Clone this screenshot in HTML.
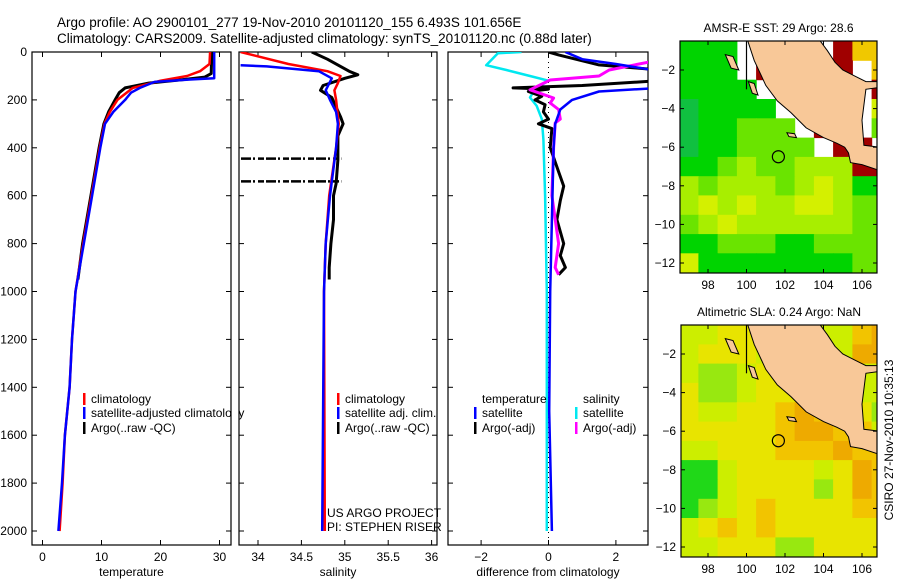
<!DOCTYPE html>
<html><head><meta charset="utf-8">
<style>
html,body{margin:0;padding:0;background:#fff;}
svg{display:block;font-family:"Liberation Sans",sans-serif;}
</style></head>
<body>
<svg id="fig" width="900" height="580" viewBox="0 0 900 580" xmlns="http://www.w3.org/2000/svg">
<rect width="900" height="580" fill="#fff"/>
<text x="57" y="27" font-size="13.5">Argo profile: AO 2900101_277 19-Nov-2010 20101120_155 6.493S 101.656E</text>
<text x="57" y="43" font-size="13.5">Climatology: CARS2009. Satellite-adjusted climatology: synTS_20101120.nc (0.88d later)</text>
<text transform="translate(893,440) rotate(-90)" text-anchor="middle" font-size="12">CSIRO 27-Nov-2010 10:35:13</text>
<g id="plots"></g>
</svg>
<script>
// ---------- DATA ----------
const depthTicks = [0,200,400,600,800,1000,1200,1400,1600,1800,2000];
const tempTicks = [0,10,20,30];
const salTicks = [34,34.5,35,35.5,36];
const diffTicks = [-2,0,2];

const tClimDepth = [0,50,80,100,120,150,200,250,300,400,600,800,1000,1200,1400,1600,1800,2000];
const tClimVal   = [28.4,28.3,26.7,24.5,20,15.3,12.7,11.4,10.5,9.7,8.3,6.9,5.6,5.0,4.6,3.8,3.4,2.9];
const tSatDepth  = [0,110,115,125,150,170,200,250,300,400,600,800,1000,1200,1400,1600,1800,2000];
const tSatVal    = [29.1,29.1,25,19,16.5,15,14,12,10.6,9.8,8.4,7.0,5.6,5.0,4.6,3.8,3.3,2.7];
const tArgoDepth = [0,90,105,115,130,150,170,200,250,300,400,600,800,950];
const tArgoVal   = [28.7,28.6,27.5,24,18,14,13,12.3,11.2,10.4,9.6,8.2,6.8,6.0];

const sClimDepth = [0,50,80,100,130,160,200,300,400,600,800,1000,2000];
const sClimVal   = [33.8,34.35,34.8,34.95,34.92,34.88,34.9,34.93,34.9,34.82,34.78,34.76,34.77];
const sSatDepth  = [55,60,80,110,160,200,250,300,400,600,800,1000,2000];
const sSatVal    = [33.8,34.1,34.7,34.85,34.78,34.83,34.9,34.92,34.9,34.83,34.78,34.76,34.74];
const sArgoDepth = [0,30,60,80,95,110,140,160,190,230,270,300,350,450,550,600,700,800,900,950];
const sArgoVal   = [34.62,34.8,34.95,35.05,35.15,35.0,34.75,34.72,34.85,34.9,34.95,34.98,34.92,34.92,34.9,34.87,34.87,34.84,34.82,34.82];
const sGapDepths = [445,540];

const dTSatDepth  = [0,30,50,80,150,165,200,240,300,400,1000,1500,2000];
const dTSatVal    = [0.5,1.0,2,3.3,3.3,1.5,0.7,0.35,0.2,0.15,0.05,0.02,0.1];
const dTArgoDepth = [0,12,54,75,120,140,150,155,165,185,200,220,250,280,300,320,400,500,560,620,700,800,850,900,930];
const dTArgoVal   = [0,0.3,1.5,3.3,3.3,1.0,-1.05,0,-0.6,-0.2,-0.4,-0.1,-0.15,0,-0.3,0.1,0.05,0.3,0.45,0.35,0.25,0.45,0.35,0.5,0.3];
const dSSatDepth  = [0,5,55,75,100,120,155,190,225,280,365,600,1000,2000];
const dSSatVal    = [-0.8,-1.5,-1.85,-1.25,-0.55,0,-0.4,-0.55,-0.35,-0.2,-0.15,-0.1,-0.05,-0.05];
const dSArgoDepth = [0,33,75,100,117,158,192,213,240,280,296,400,600,800,900,930];
const dSArgoVal   = [3.3,3.3,1.8,1.5,0.05,-0.55,0.15,0.05,0.3,0.35,0.2,0.15,0.1,0.3,0.2,0.3];

const mapLonTicks = [98,100,102,104,106];
const mapLatTicks = [-2,-4,-6,-8,-10,-12];
// 1-degree cells, rows lat -0.5.. -12.5, cols lon 96.5..107.5 ; -1 = missing
const sstGrid = [
[1,1,1,-1,6,-1,-1,-1,6,5,5],
[1,1,1,-1,6,-1,-1,-1,6,-1,5],
[1,1,1,1,-1,-1,-1,-1,-1,-1,6],
[0,1,1,1,1,-1,-1,-1,-1,-1,4],
[0,1,1,2,2,2,-1,6,-1,-1,2],
[0,1,1,2,2,2,2,-1,6,6,-1],
[1,1,2,3,2,2,3,3,3,6,6],
[3,2,3,3,3,2,3,4,3,1,1],
[3,4,3,4,3,3,4,4,3,2,2],
[2,3,4,3,3,3,3,3,3,2,2],
[1,1,2,2,2,1,1,2,2,2,2],
[4,1,1,1,1,1,1,1,1,2,2]];
const slaGrid = [
[3,3,4,4,4,3,3,3,3,5,6],
[3,4,4,4,3,3,3,3,3,6,6],
[3,2,2,3,4,4,4,4,4,3,3],
[4,2,2,3,4,4,4,4,4,3,3],
[4,3,3,4,4,5,6,5,5,4,2],
[4,4,4,4,4,5,6,6,5,5,3],
[3,3,4,4,4,5,5,5,6,5,5],
[1,1,3,4,4,4,4,3,4,6,5],
[1,1,3,4,4,4,4,2,4,6,5],
[1,2,3,4,5,4,4,4,4,5,5],
[3,4,5,4,5,4,4,4,4,4,4],
[3,3,4,4,4,2,2,4,4,4,4]];
const sstColors = ['#10c040','#00d400','#6ae400','#a8ee00','#d4f000','#f0c800','#a00000'];
const slaColors = ['#10b848','#20d818','#98e810','#ccee00','#e8e400','#f2c400','#eeaa00'];
const argoLon = 101.656, argoLat = -6.493;
const landLon = [100.05,100.4,101.0,101.6,102.3,103.1,104.0,104.7,105.1,105.3,105.4,106.0,106.9,106.9,106.1,106.0,106.2,106.9,106.9,106.2,105.6,105.0,104.6,104.2,103.8];
const landLat = [-0.45,-1.5,-2.8,-3.6,-4.2,-5.0,-5.5,-5.8,-6.0,-6.3,-6.8,-6.9,-7.2,-6.0,-5.9,-4.6,-3.0,-2.9,-2.6,-2.6,-2.3,-2.0,-1.6,-1.0,-0.45];
const islandLon = [[98.9,99.3,99.6,99.2],[100.1,100.4,100.6,100.3],[102.1,102.5,102.6,102.2]];
const islandLat = [[-1.2,-1.3,-2.0,-1.9],[-2.6,-2.7,-3.3,-3.2],[-5.25,-5.3,-5.5,-5.45]];

// ---------- DRAW ----------
const NS='http://www.w3.org/2000/svg';
const root=document.getElementById('plots');
function mk(tag,attrs,parent){const e=document.createElementNS(NS,tag);for(const k in attrs)e.setAttribute(k,attrs[k]);(parent||root).appendChild(e);return e;}
function txt(x,y,s,size,anchor,parent){const t=mk('text',{x:x,y:y,'font-size':size,'text-anchor':anchor||'start'},parent);t.textContent=s;return t;}

const PT=52, PB=545, D0=52, DK=479/2000;
const yD=d=>D0+d*DK;

function panel(name,x0,x1,xs,ticks,fmt,label,showY){
  const g=mk('g',{});
  
  
  const r=mk('rect',{x:x0,y:PT,width:x1-x0,height:PB-PT,fill:'none',stroke:'#000','stroke-width':1.2},g);
  
  
  ticks.forEach(v=>{
    const x=xs(v);
    mk('line',{x1:x,x2:x,y1:PB,y2:PB-5,stroke:'#000'},g);
    mk('line',{x1:x,x2:x,y1:PT,y2:PT+5,stroke:'#000'},g);
    const t=txt(x,561,fmt(v),12,'middle',g);
    
    
  });
  depthTicks.forEach(d=>{
    const y=yD(d);
    mk('line',{x1:x0,x2:x0+5,y1:y,y2:y,stroke:'#000'},g);
    mk('line',{x1:x1,x2:x1-5,y1:y,y2:y,stroke:'#000'},g);
    if(showY){const t=txt(x0-5,y+4,String(d),12,'end',g);
      
      }
  });
  const lt=txt((x0+x1)/2,576,label,12,'middle',g);
  
  
  const cid='clip'+name;
  const cp=mk('clipPath',{id:cid},g);mk('rect',{x:x0,y:PT,width:x1-x0,height:PB-PT},cp);
  const inner=mk('g',{'clip-path':'url(#'+cid+')'},g);
  return inner;
}
function series(parent,depths,vals,xs,color,w,name){
  const pts=depths.map((d,i)=>xs(vals[i]).toFixed(1)+','+yD(d).toFixed(1)).join(' ');
  const p=mk('polyline',{points:pts,fill:'none',stroke:color,'stroke-width':w,'stroke-linejoin':'round'},parent);
  
  
}
function legend(parent,x,y,color,label,name){
  mk('rect',{x:x,y:y-10,width:2.5,height:12,fill:color},parent);
  const t=txt(x+8,y,label,12,'start',parent);
  
  
}

// Temperature
const xT=v=>42.5+v*5.9;
const gT=panel('temperature-panel',32,231,xT,tempTicks,v=>String(v),'temperature',true);
series(gT,tArgoDepth,tArgoVal,xT,'#000',3,'temp-argo-line');
series(gT,tClimDepth,tClimVal,xT,'#ff0000',2.5,'temp-climatology-line');
series(gT,tSatDepth,tSatVal,xT,'#0000ff',2.5,'temp-satellite-line');
legend(root,83,403,'#ff0000','climatology','legend-climatology');
legend(root,83,417,'#0000ff','satellite-adjusted climatology','legend-satellite-adjusted');
legend(root,83,432,'#000','Argo(..raw -QC)','legend-argo');
mk('rect',{x:232,y:395,width:6,height:30,fill:'#fff'});

// Salinity
const xS=v=>258+(v-34)*86.8;
const gS=panel('salinity-panel',239,437,xS,salTicks,v=>String(v),'salinity',false);
sGapDepths.forEach(d=>{
  const l=mk('line',{x1:241,x2:xS(34.96),y1:yD(d),y2:yD(d),stroke:'#000','stroke-width':2.5,'stroke-dasharray':'10,2,2,3,6,2'},gS);
  
  
});
series(gS,sArgoDepth,sArgoVal,xS,'#000',3,'sal-argo-line');
series(gS,sClimDepth,sClimVal,xS,'#ff0000',2.5,'sal-climatology-line');
series(gS,sSatDepth,sSatVal,xS,'#0000ff',2.5,'sal-satellite-line');
legend(root,337,403,'#ff0000','climatology','legend-sal-climatology');
legend(root,337,417,'#0000ff','satellite adj. clim.','legend-sal-satellite');
legend(root,337,432,'#000','Argo(..raw -QC)','legend-sal-argo');
const us=txt(327,517,'US ARGO PROJECT',12);
const pi=txt(327,531,'PI: STEPHEN RISER',12);

// Difference
const xD=v=>548.5+v*33.7;
const gD=panel('difference-panel',448,648,xD,diffTicks,v=>v<0?'\u2212'+Math.abs(v):String(v),'difference from climatology',false);
const zl=mk('line',{x1:xD(0),x2:xD(0),y1:PT,y2:PB,stroke:'#000','stroke-dasharray':'1,4'},gD);

series(gD,dSSatDepth,dSSatVal,xD,'#00e8f0',2.5,'diff-sal-satellite-line');
series(gD,dTArgoDepth,dTArgoVal,xD,'#000',3,'diff-temp-argo-line');
series(gD,dSArgoDepth,dSArgoVal,xD,'#ff00ff',3,'diff-sal-argo-line');
series(gD,dTSatDepth,dTSatVal,xD,'#0000ff',2.5,'diff-temp-satellite-line');
const th=txt(482,403,'temperature',12);
const sh=txt(583,403,'salinity',12);
legend(root,474,417,'#0000ff','satellite','legend-temp-satellite');
legend(root,474,432,'#000','Argo(-adj)','legend-temp-argo');
legend(root,575,417,'#00e8f0','satellite','legend-sal-satellite-diff');
legend(root,575,432,'#ff00ff','Argo(-adj)','legend-sal-argo-diff');

// Maps
function drawMap(name,title,x0,x1,yTop,yBot,latRef,grid,colors){
  const lx=lon=>708+(lon-98)*19.25;
  const ly=lat=>latRef+(-2-lat)*19.3;
  const g=mk('g',{});
  
  
  const cid='clip'+name;
  const cp=mk('clipPath',{id:cid},g);mk('rect',{x:x0,y:yTop,width:x1-x0,height:yBot-yTop},cp);
  const inner=mk('g',{'clip-path':'url(#'+cid+')'},g);
  grid.forEach((row,r)=>row.forEach((v,c)=>{
    if(v<0)return;
    const lon=96.5+c, lat=-0.5-r;
    const cell=mk('rect',{x:lx(lon).toFixed(1),y:ly(lat).toFixed(1),width:19.8,height:19.8,fill:colors[v]},inner);
    
    
  }));
  const land=mk('polygon',{points:landLon.map((lo,i)=>lx(lo).toFixed(1)+','+ly(landLat[i]).toFixed(1)).join(' '),fill:'#f8c898',stroke:'#000','stroke-width':1},inner);
  
  
  islandLon.forEach((arr,k)=>{
    const isl=mk('polygon',{points:arr.map((lo,i)=>lx(lo).toFixed(1)+','+ly(islandLat[k][i]).toFixed(1)).join(' '),fill:'#f8c898',stroke:'#000','stroke-width':1},inner);
    
    
  });
  mk('line',{x1:lx(100),x2:lx(100),y1:yTop,y2:ly(-3),stroke:'#000','stroke-width':1.2},inner);
  const c=mk('circle',{cx:lx(argoLon),cy:ly(argoLat),r:6,fill:'none',stroke:'#000','stroke-width':1.2},inner);
  
  
  mk('rect',{x:x0,y:yTop,width:x1-x0,height:yBot-yTop,fill:'none',stroke:'#000','stroke-width':1.2},g);
  mapLonTicks.forEach(lo=>{const x=lx(lo);
    mk('line',{x1:x,x2:x,y1:yBot,y2:yBot-4,stroke:'#000'},g);mk('line',{x1:x,x2:x,y1:yTop,y2:yTop+4,stroke:'#000'},g);
    const t=txt(x,yBot+16,String(lo),12,'middle',g);});
  mapLatTicks.forEach(la=>{const y=ly(la);
    mk('line',{x1:x0,x2:x0+4,y1:y,y2:y,stroke:'#000'},g);mk('line',{x1:x1,x2:x1-4,y1:y,y2:y,stroke:'#000'},g);
    const t=txt(x0-5,y+4,'\u2212'+Math.abs(la),12,'end',g);});
  const tt=txt((x0+x1)/2,yTop-9,title,12,'middle',g);
  
  
}
drawMap('sst-map','AMSR-E SST: 29 Argo: 28.6',680,877,41,273,70,sstGrid,sstColors);
drawMap('sla-map','Altimetric SLA: 0.24 Argo: NaN',681,877,325,557,354,slaGrid,slaColors);
</script>
</body></html>
